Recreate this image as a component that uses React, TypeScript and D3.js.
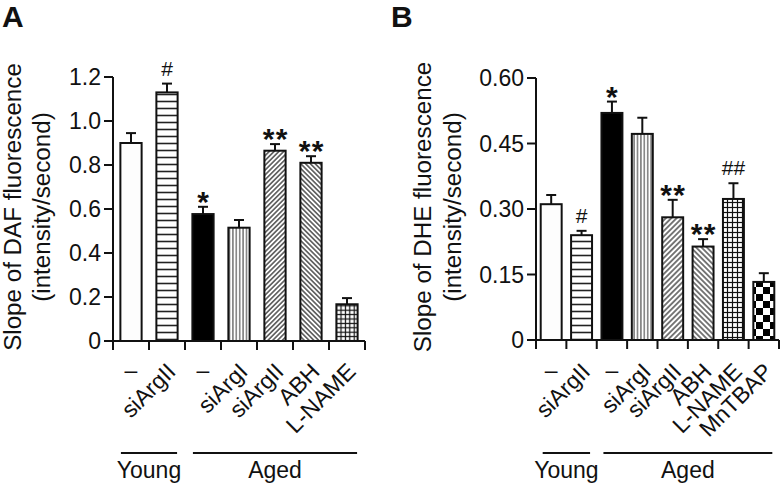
import React from "react";
import * as d3 from "d3";

// ---- Data ----
const categoriesA = ["–", "siArgII", "–", "siArgI", "siArgII", "ABH", "L-NAME"];
const meansA = [0.9, 1.13, 0.577, 0.515, 0.865, 0.81, 0.167];
const errorsA = [0.045, 0.04, 0.033, 0.035, 0.03, 0.03, 0.028];
const signifA = ["", "#", "*", "", "**", "**", ""];
const ticksA = [0, 0.2, 0.4, 0.6, 0.8, 1.0, 1.2];
const tickLabelsA = ["0", "0.2", "0.4", "0.6", "0.8", "1.0", "1.2"];
const groupsA = [
  { name: "Young", from: 0, to: 1 },
  { name: "Aged", from: 2, to: 6 },
];

const categoriesB = ["–", "siArgII", "–", "siArgI", "siArgII", "ABH", "L-NAME", "MnTBAP"];
const meansB = [0.311, 0.24, 0.52, 0.472, 0.281, 0.214, 0.323, 0.133];
const errorsB = [0.021, 0.01, 0.026, 0.037, 0.04, 0.017, 0.036, 0.02];
const signifB = ["", "#", "*", "", "**", "**", "##", ""];
const ticksB = [0, 0.15, 0.3, 0.45, 0.6];
const tickLabelsB = ["0", "0.15", "0.30", "0.45", "0.60"];
const groupsB = [
  { name: "Young", from: 0, to: 1 },
  { name: "Aged", from: 2, to: 7 },
];

// fill styles per bar (not data)
const fillsA = ["white", "hlines", "black", "vlines", "diag", "anti", "grid"];
const fillsB = ["white", "hlines", "black", "vlines", "diag", "anti", "grid", "checker"];

const FONT = "'Liberation Sans', Arial, Helvetica, sans-serif";
const INK = "#111";

function fillFor(key: string, id: string) {
  if (key === "white") return "#fdfdfd";
  if (key === "black") return "#000";
  return `url(#${id}-${key})`;
}

function Patterns({ id, diagSpacing, gridSpacing }: { id: string; diagSpacing: number; gridSpacing: number }) {
  return (
    <defs>
      <pattern id={`${id}-hlines`} patternUnits="userSpaceOnUse" width={8} height={7}>
        <rect width={8} height={7} fill="#fff" />
        <line x1={0} x2={8} y1={3.5} y2={3.5} stroke="#222" strokeWidth={1.6} />
      </pattern>
      <pattern id={`${id}-vlines`} patternUnits="userSpaceOnUse" width={3.4} height={10}>
        <rect width={3.4} height={10} fill="#fff" />
        <line x1={1.7} x2={1.7} y1={0} y2={10} stroke="#333" strokeWidth={1} />
      </pattern>
      <pattern id={`${id}-diag`} patternUnits="userSpaceOnUse" width={diagSpacing} height={10} patternTransform="rotate(45)">
        <rect width={diagSpacing} height={10} fill="#fff" />
        <line x1={diagSpacing / 2} x2={diagSpacing / 2} y1={0} y2={10} stroke="#222" strokeWidth={1.2} />
      </pattern>
      <pattern id={`${id}-anti`} patternUnits="userSpaceOnUse" width={diagSpacing} height={10} patternTransform="rotate(-45)">
        <rect width={diagSpacing} height={10} fill="#fff" />
        <line x1={diagSpacing / 2} x2={diagSpacing / 2} y1={0} y2={10} stroke="#222" strokeWidth={1.2} />
      </pattern>
      <pattern id={`${id}-grid`} patternUnits="userSpaceOnUse" width={gridSpacing} height={gridSpacing}>
        <rect width={gridSpacing} height={gridSpacing} fill="#fff" />
        <line x1={gridSpacing / 2} x2={gridSpacing / 2} y1={0} y2={gridSpacing} stroke="#111" strokeWidth={1.2} />
        <line x1={0} x2={gridSpacing} y1={gridSpacing / 2} y2={gridSpacing / 2} stroke="#111" strokeWidth={1.2} />
      </pattern>
      <pattern id={`${id}-checker`} patternUnits="userSpaceOnUse" width={14} height={14}>
        <rect width={14} height={14} fill="#fff" />
        <rect x={0} y={0} width={7} height={7} fill="#000" />
        <rect x={7} y={7} width={7} height={7} fill="#000" />
      </pattern>
    </defs>
  );
}

type PanelProps = {
  id: string;
  letter: string;
  letterX: number;
  categories: string[];
  means: number[];
  errors: number[];
  signif: string[];
  ticks: number[];
  tickLabels: string[];
  groups: { name: string; from: number; to: number }[];
  fills: string[];
  yMax: number;
  x0: number;
  x1: number;
  y0: number;
  y1: number;
  padInner: number;
  label1: string;
  label2: string;
  label1X: number;
  label2X: number;
  labelCY: number;
  diagSpacing: number;
  gridSpacing: number;
};

function Panel(p: PanelProps) {
  const n = p.categories.length;
  const x = d3
    .scaleBand<number>()
    .domain(d3.range(n))
    .range([p.x0, p.x1])
    .paddingInner(p.padInner)
    .paddingOuter(p.padInner / 2);
  const y = d3.scaleLinear().domain([0, p.yMax]).range([p.y0, p.y1]);
  const step = x.step();
  const bw = x.bandwidth();
  const slotStart = (i: number) => p.x0 + i * step;
  const tickLen = 9;

  return (
    <g>
      <Patterns id={p.id} diagSpacing={p.diagSpacing} gridSpacing={p.gridSpacing} />
      <text x={p.letterX} y={27} fontFamily={FONT} fontWeight="bold" fontSize={30} fill={INK}>
        {p.letter}
      </text>
      {/* y label */}
      <text
        transform={`translate(${p.label1X},${p.labelCY}) rotate(-90)`}
        textAnchor="middle"
        fontFamily={FONT}
        fontSize={24.2}
        fill={INK}
      >
        {p.label1}
      </text>
      <text
        transform={`translate(${p.label2X},${p.labelCY}) rotate(-90)`}
        textAnchor="middle"
        fontFamily={FONT}
        fontSize={24.2}
        fill={INK}
      >
        {p.label2}
      </text>
      {/* bars */}
      {p.means.map((m, i) => {
        const bx = x(i)!;
        const top = y(m);
        const et = y(m + p.errors[i]);
        const cx = bx + bw / 2;
        const sig = p.signif[i];
        return (
          <g key={i}>
            <line x1={cx} x2={cx} y1={top} y2={et} stroke={INK} strokeWidth={2} />
            <line x1={cx - 5} x2={cx + 5} y1={et} y2={et} stroke={INK} strokeWidth={2} />
            <rect
              x={bx}
              y={top}
              width={bw}
              height={y(0) - top}
              fill={fillFor(p.fills[i], p.id)}
              stroke={INK}
              strokeWidth={2}
            />
            {sig &&
              (sig.startsWith("*") ? (
                <g>
                  {sig.split("").map((s, k) => (
                    <text
                      key={k}
                      x={cx + (k - (sig.length - 1) / 2) * 13}
                      y={et + 5}
                      textAnchor="middle"
                      fontFamily={FONT}
                      fontWeight="bold"
                      fontSize={30}
                      fill={INK}
                    >
                      {s}
                    </text>
                  ))}
                </g>
              ) : (
                <text x={cx} y={et - 8} textAnchor="middle" fontFamily={FONT} fontSize={21} fill={INK}>
                  {sig}
                </text>
              ))}
          </g>
        );
      })}
      {/* y axis */}
      <line x1={p.x0} x2={p.x0} y1={y(0)} y2={y(p.yMax)} stroke={INK} strokeWidth={2} />
      {p.ticks.map((t, i) => (
        <g key={i}>
          <line x1={p.x0 - tickLen} x2={p.x0} y1={y(t)} y2={y(t)} stroke={INK} strokeWidth={2} />
          <text
            x={p.x0 - tickLen - 3}
            y={y(t)}
            dy="0.36em"
            textAnchor="end"
            fontFamily={FONT}
            fontSize={23}
            fill={INK}
          >
            {p.tickLabels[i]}
          </text>
        </g>
      ))}
      {/* x axis */}
      <line x1={p.x0 - 1} x2={p.x1} y1={y(0)} y2={y(0)} stroke={INK} strokeWidth={2} />
      {d3.range(n + 1).map((i) => (
        <line key={i} x1={slotStart(i)} x2={slotStart(i)} y1={y(0)} y2={y(0) + 9} stroke={INK} strokeWidth={2} />
      ))}
      {/* category labels */}
      {p.categories.map((c, i) => {
        const cx = x(i)! + bw / 2;
        if (c === "–") {
          return (
            <text key={i} x={cx} y={370} dy="0.35em" textAnchor="middle" fontFamily={FONT} fontSize={23} fill={INK}>
              {c}
            </text>
          );
        }
        return (
          <text
            key={i}
            transform={`translate(${cx + 10},${373}) rotate(-45)`}
            textAnchor="end"
            fontFamily={FONT}
            fontSize={23}
            fill={INK}
          >
            {c}
          </text>
        );
      })}
      {/* groups */}
      {p.groups.map((g, i) => {
        const inset = step * 0.22;
        const gx0 = slotStart(g.from) + inset;
        const gx1 = slotStart(g.to + 1) - inset;
        return (
          <g key={i}>
            <line x1={gx0} x2={gx1} y1={453} y2={453} stroke={INK} strokeWidth={2} />
            <text x={(gx0 + gx1) / 2} y={478} textAnchor="middle" fontFamily={FONT} fontSize={23} fill={INK}>
              {g.name}
            </text>
          </g>
        );
      })}
    </g>
  );
}

export default function App() {
  return (
    <svg
      width={782}
      height={489}
      viewBox="0 0 782 489"
      style={{ position: "absolute", left: 0, top: 0, background: "#fff" }}
    >
      <rect width={782} height={489} fill="#fff" />
      <Panel
        id="pa"
        letter="A"
        letterX={2}
        categories={categoriesA}
        means={meansA}
        errors={errorsA}
        signif={signifA}
        ticks={ticksA}
        tickLabels={tickLabelsA}
        groups={groupsA}
        fills={fillsA}
        yMax={1.2}
        x0={113}
        x1={365}
        y0={341}
        y1={77}
        padInner={0.41}
        label1="Slope of DAF fluorescence"
        label2="(intensity/second)"
        label1X={21}
        label2X={50}
        labelCY={207}
        diagSpacing={3.4}
        gridSpacing={4.4}
      />
      <Panel
        id="pb"
        letter="B"
        letterX={391}
        categories={categoriesB}
        means={meansB}
        errors={errorsB}
        signif={signifB}
        ticks={ticksB}
        tickLabels={tickLabelsB}
        groups={groupsB}
        fills={fillsB}
        yMax={0.6}
        x0={536}
        x1={779}
        y0={340}
        y1={78}
        padInner={0.31}
        label1="Slope of DHE fluorescence"
        label2="(intensity/second)"
        label1X={431}
        label2X={461}
        labelCY={207}
        diagSpacing={3.8}
        gridSpacing={5}
      />
    </svg>
  );
}
